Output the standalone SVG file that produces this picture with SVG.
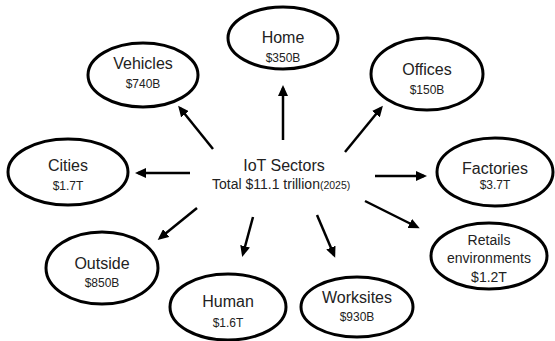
<svg xmlns="http://www.w3.org/2000/svg" width="555" height="341" viewBox="0 0 555 341">
  <style>
    .node ellipse { fill: #ffffff; stroke: #000000; stroke-width: 3; }
    .name { font-family: "Liberation Sans", Arial, sans-serif; font-size: 16px; fill: #222222; text-anchor: middle; }
    .value { font-family: "Liberation Sans", Arial, sans-serif; font-size: 12px; fill: #222222; text-anchor: middle; }
    .small { font-family: "Liberation Sans", Arial, sans-serif; font-size: 14px; fill: #222222; text-anchor: middle; }
    .title { font-family: "Liberation Sans", Arial, sans-serif; font-size: 16px; fill: #222222; text-anchor: middle; }
    .sub { font-family: "Liberation Sans", Arial, sans-serif; font-size: 14px; fill: #222222; }
    .connectors line { stroke: #000000; stroke-width: 2.5; marker-end: url(#arrow); }
  </style>
  <defs>
    <marker id="arrow" markerUnits="userSpaceOnUse" viewBox="0 0 11 10" markerWidth="11" markerHeight="10" refX="8" refY="5" orient="auto">
      <path d="M0,0 L11,5 L0,10 z" fill="#000000"/>
    </marker>
  </defs>

  <rect width="555" height="341" fill="#ffffff"/>

  <!-- centre label -->
  <g id="center">
    <text class="title" x="284" y="171">IoT Sectors</text>
    <text class="sub" x="212" y="189">Total $11.1 trillion<tspan font-size="10.5px">(2025)</tspan></text>
  </g>

  <!-- arrows from the centre to each sector -->
  <g class="connectors" id="connectors">
    <line x1="283" y1="140" x2="283" y2="88"/>
    <line x1="213" y1="149" x2="180" y2="108"/>
    <line x1="345" y1="152" x2="381" y2="108"/>
    <line x1="190" y1="173" x2="138" y2="173"/>
    <line x1="375" y1="176" x2="424" y2="176"/>
    <line x1="197" y1="208" x2="160" y2="238"/>
    <line x1="253" y1="217" x2="243" y2="254"/>
    <line x1="317" y1="215" x2="334" y2="255"/>
    <line x1="365" y1="201" x2="417" y2="227"/>
  </g>

  <g class="node" id="home">
    <ellipse cx="283" cy="38" rx="55" ry="31"/>
    <text class="name" x="283" y="43">Home</text>
    <text class="value" x="283" y="62">$350B</text>
  </g>

  <g class="node" id="vehicles">
    <ellipse cx="143" cy="75" rx="55" ry="32"/>
    <text class="name" x="143" y="69">Vehicles</text>
    <text class="value" x="143" y="88">$740B</text>
  </g>

  <g class="node" id="offices">
    <ellipse cx="427" cy="74" rx="56" ry="36"/>
    <text class="name" x="427" y="75">Offices</text>
    <text class="value" x="427" y="94">$150B</text>
  </g>

  <g class="node" id="cities">
    <ellipse cx="68" cy="172" rx="60" ry="33"/>
    <text class="name" x="68" y="171">Cities</text>
    <text class="value" x="68" y="190">$1.7T</text>
  </g>

  <g class="node" id="factories">
    <ellipse cx="495" cy="172" rx="58" ry="34"/>
    <text class="name" x="495" y="174">Factories</text>
    <text class="value" x="495" y="189">$3.7T</text>
  </g>

  <g class="node" id="outside">
    <ellipse cx="102" cy="268" rx="56" ry="36"/>
    <text class="name" x="102" y="269">Outside</text>
    <text class="value" x="102" y="287">$850B</text>
  </g>

  <g class="node" id="human">
    <ellipse cx="228" cy="307" rx="58" ry="33"/>
    <text class="name" x="228" y="307">Human</text>
    <text class="value" x="228" y="327">$1.6T</text>
  </g>

  <g class="node" id="worksites">
    <ellipse cx="357" cy="307" rx="56" ry="30"/>
    <text class="name" x="357" y="303">Worksites</text>
    <text class="value" x="357" y="321">$930B</text>
  </g>

  <g class="node" id="retails">
    <ellipse cx="489" cy="256" rx="58" ry="33"/>
    <text class="small" x="489" y="245">Retails</text>
    <text class="small" x="489" y="263">environments</text>
    <text class="small" x="489" y="282" font-size="13px">$1.2T</text>
  </g>
</svg>
